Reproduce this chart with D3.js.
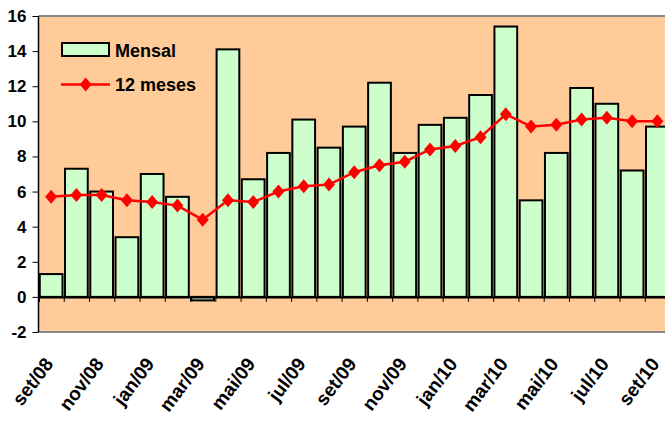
<!DOCTYPE html>
<html>
<head>
<meta charset="utf-8">
<script src="https://cdn.jsdelivr.net/npm/d3@7/dist/d3.min.js"></script>
<style>
  html, body { margin: 0; padding: 0; background: #ffffff; }
  svg { display: block; }
  text { font-family: "Liberation Sans", Arial, sans-serif; font-weight: bold; fill: #000; }
</style>
</head>
<body>
<svg id="chart" width="665" height="421"></svg>
<script>
// Monthly and 12-month rates, set/08 .. set/10
const months = ["set/08","out/08","nov/08","dez/08","jan/09","fev/09","mar/09","abr/09",
  "mai/09","jun/09","jul/09","ago/09","set/09","out/09","nov/09","dez/09","jan/10",
  "fev/10","mar/10","abr/10","mai/10","jun/10","jul/10","ago/10","set/10"];
const mensal = [1.3, 7.3, 6.0, 3.4, 7.0, 5.7, -0.2, 14.1, 6.7, 8.2, 10.1, 8.5, 9.7,
  12.2, 8.2, 9.8, 10.2, 11.5, 15.4, 5.5, 8.2, 11.9, 11.0, 7.2, 9.7];
const meses12 = [5.7, 5.8, 5.8, 5.5, 5.4, 5.2, 4.4, 5.5, 5.4, 6.0, 6.3, 6.4, 7.1,
  7.5, 7.7, 8.4, 8.6, 9.1, 10.4, 9.7, 9.8, 10.1, 10.2, 10.0, 10.0];
const yTicks = [-2, 0, 2, 4, 6, 8, 10, 12, 14, 16];
const xLabels = months.filter((d, i) => i % 2 === 0);
const seriesNames = ["Mensal", "12 meses"];

const svg = d3.select("#chart");
const plotLeft = 38.5, plotTop = 16, plotBottom = 332;
const step = 25.26;
const plotRight = plotLeft + step * months.length;

const x = d3.scaleBand().domain(months).range([plotLeft, plotRight]).paddingInner(0.1).paddingOuter(0.05);
const y = d3.scaleLinear().domain([-2, 16]).range([plotBottom, plotTop]);

// plot area
svg.append("rect")
  .attr("x", plotLeft).attr("y", plotTop)
  .attr("width", plotRight - plotLeft).attr("height", plotBottom - plotTop)
  .attr("fill", "#FFCC99");
svg.append("line").attr("x1", plotLeft).attr("x2", plotRight).attr("y1", plotTop).attr("y2", plotTop)
  .attr("stroke", "#888").attr("stroke-width", 2);
svg.append("line").attr("x1", plotLeft).attr("x2", plotRight).attr("y1", plotBottom).attr("y2", plotBottom)
  .attr("stroke", "#888").attr("stroke-width", 2);

// bars
svg.append("g").selectAll("rect").data(mensal).join("rect")
  .attr("x", (d, i) => x(months[i]))
  .attr("width", x.bandwidth())
  .attr("y", d => y(Math.max(0, d)))
  .attr("height", d => Math.abs(y(d) - y(0)))
  .attr("fill", "#CCFFCC")
  .attr("stroke", "#000")
  .attr("stroke-width", 2);

// category axis at zero
const xAxisScale = d3.scaleLinear().domain([0, months.length]).range([plotLeft, plotRight]);
const xAxis = svg.append("g").attr("transform", `translate(0,${y(0)})`)
  .call(d3.axisBottom(xAxisScale).tickValues(d3.range(1, months.length + 1)).tickSize(5).tickFormat(""));
xAxis.select(".domain").attr("stroke", "#000").attr("stroke-width", 2);
xAxis.selectAll(".tick line").attr("stroke", "#000").attr("stroke-width", 1);

// category labels
svg.append("g").selectAll("text").data(xLabels).join("text")
  .attr("transform", d => `translate(${x(d) + x.bandwidth() / 2 + 3},${plotBottom + 32}) rotate(-53)`)
  .attr("text-anchor", "end")
  .attr("font-size", 19)
  .text(d => d);

// value axis
const yAxis = svg.append("g").attr("transform", `translate(${plotLeft},0)`)
  .call(d3.axisLeft(y).tickValues(yTicks).tickSize(6).tickPadding(6).tickFormat(d3.format("d")));
yAxis.select(".domain").attr("stroke", "#000").attr("stroke-width", 1.5).attr("d", `M0,${plotTop}V${plotBottom}`);
yAxis.selectAll(".tick line").attr("stroke", "#000");
yAxis.selectAll(".tick text")
  .attr("font-size", 17).attr("font-weight", "bold")
  .attr("font-family", "'Liberation Sans', Arial, sans-serif").attr("fill", "#000")
  .text(d => d < 0 ? "-" + Math.abs(d) : d);

// 12-month line
const cx = (d, i) => x(months[i]) + x.bandwidth() / 2;
const line = d3.line().x(cx).y(d => y(d));
svg.append("path").datum(meses12)
  .attr("d", line).attr("fill", "none").attr("stroke", "#FF0000").attr("stroke-width", 2.5);

const diamond = "M0,-7L6,0L0,7L-6,0Z";
svg.append("g").selectAll("path").data(meses12).join("path")
  .attr("transform", (d, i) => `translate(${cx(d, i)},${y(d)})`)
  .attr("d", diamond).attr("fill", "#FF0000");

// legend
const lg = svg.append("g");
lg.append("rect").attr("x", 62).attr("y", 43).attr("width", 47).attr("height", 13)
  .attr("fill", "#CCFFCC").attr("stroke", "#000").attr("stroke-width", 2);
lg.append("text").attr("x", 115).attr("y", 57).attr("font-size", 18).text(seriesNames[0]);
lg.append("line").attr("x1", 61).attr("x2", 110).attr("y1", 84.5).attr("y2", 84.5)
  .attr("stroke", "#FF0000").attr("stroke-width", 2.5);
lg.append("path").attr("transform", "translate(85.7,84.5)").attr("d", diamond).attr("fill", "#FF0000");
lg.append("text").attr("x", 115).attr("y", 90.5).attr("font-size", 18).text(seriesNames[1]);
</script>
</body>
</html>
